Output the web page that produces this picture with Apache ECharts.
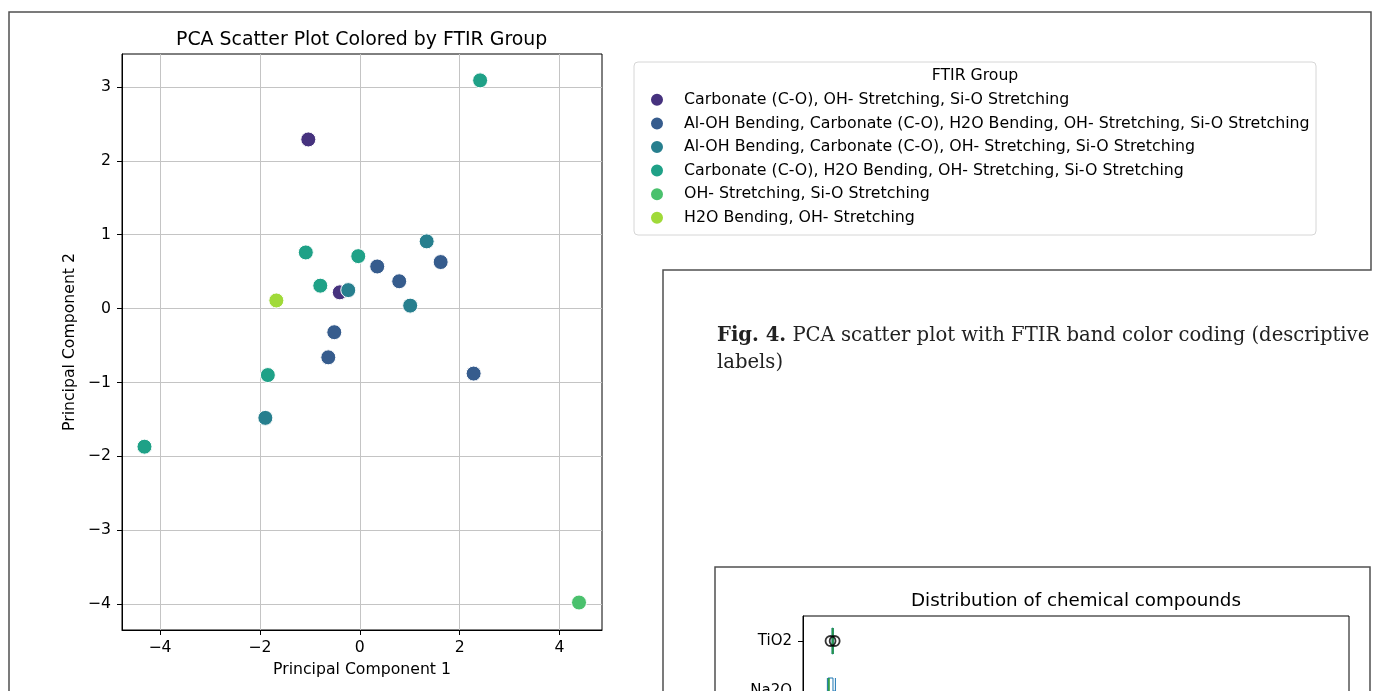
<!DOCTYPE html>
<html>
<head>
<meta charset="utf-8">
<script src="https://cdn.jsdelivr.net/npm/echarts@6/dist/echarts.min.js"></script>
<style>
  html, body { margin: 0; padding: 0; background: #fff; }
  #chart { width: 1378px; height: 691px; }
</style>
</head>
<body>
<div id="chart"></div>
<script>
// FTIR groups (legend order) and their viridis colours
const groupNames = [
  'Carbonate (C-O), OH- Stretching, Si-O Stretching',
  'Al-OH Bending, Carbonate (C-O), H2O Bending, OH- Stretching, Si-O Stretching',
  'Al-OH Bending, Carbonate (C-O), OH- Stretching, Si-O Stretching',
  'Carbonate (C-O), H2O Bending, OH- Stretching, Si-O Stretching',
  'OH- Stretching, Si-O Stretching',
  'H2O Bending, OH- Stretching'
];
const groupColors = ['#46327e', '#365c8d', '#277f8e', '#1fa187', '#4ac16d', '#a0da39'];

// PCA scores [PC1, PC2] per FTIR group
const pcaGroup1 = [[-1.03, 2.29], [-0.40, 0.22]];
const pcaGroup2 = [[0.35, 0.57], [0.79, 0.37], [1.62, 0.63], [-0.51, -0.32], [-0.63, -0.66], [2.28, -0.88]];
const pcaGroup3 = [[1.34, 0.91], [-0.23, 0.25], [1.01, 0.04], [-1.89, -1.48]];
const pcaGroup4 = [[2.41, 3.09], [-1.08, 0.76], [-0.03, 0.71], [-0.79, 0.31], [-1.84, -0.90], [-4.31, -1.87]];
const pcaGroup5 = [[4.39, -3.98]];
const pcaGroup6 = [[-1.67, 0.11]];
const pcaGroups = [pcaGroup1, pcaGroup2, pcaGroup3, pcaGroup4, pcaGroup5, pcaGroup6];

// Tick labels of the PCA axes
const pc1Ticks = [-4, -2, 0, 2, 4];
const pc2Ticks = [-4, -3, -2, -1, 0, 1, 2, 3];

// Compound distribution (box plot): categories, [min, Q1, median, Q3, max], outliers
const compounds = ['TiO2', 'Na2O'];
const compoundBoxes = [[1.00, 1.03, 1.08, 1.13, 1.16], [0.35, 0.43, 0.55, 1.12, 1.45]];
const compoundOutliers = [['TiO2', 0.78], ['TiO2', 1.35]];

const minus = v => String(v).replace('-', '\u2212');
const SANS = 'DejaVu Sans';

const chart = echarts.init(document.getElementById('chart'), null, { renderer: 'canvas' });

const scatterSeries = pcaGroups.map((pts, i) => ({
  name: groupNames[i],
  type: 'scatter',
  xAxisIndex: 0,
  yAxisIndex: 0,
  data: pts,
  symbol: 'circle',
  symbolSize: 15,
  itemStyle: { color: groupColors[i], borderColor: '#ffffff', borderWidth: 1, opacity: 1 },
  emphasis: { disabled: true },
  z: 3
}));

chart.setOption({
  animation: false,
  backgroundColor: '#ffffff',
  textStyle: { fontFamily: SANS },
  title: [
    {
      text: 'PCA Scatter Plot Colored by FTIR Group',
      left: 171, top: 26,
      textStyle: { fontFamily: SANS, fontSize: 18.9, fontWeight: 'normal', color: '#000' }
    },
    {
      text: 'Distribution of chemical compounds',
      left: 906, top: 587,
      textStyle: { fontFamily: SANS, fontSize: 18.3, fontWeight: 'normal', color: '#000' }
    }
  ],
  legend: {
    orient: 'vertical',
    left: 649, top: 91,
    padding: 0,
    itemWidth: 14, itemHeight: 14,
    itemGap: 6,
    icon: 'circle',
    selectedMode: false,
    data: groupNames,
    textStyle: { fontFamily: SANS, fontSize: 15.8, color: '#000', lineHeight: 17.6, padding: [0, 0, 0, 15] }
  },
  grid: [
    { left: 122, top: 54, right: 776, bottom: 61, outerBoundsMode: 'none', show: true, borderColor: '#000', borderWidth: 1, backgroundColor: 'transparent' },
    { left: 803, top: 616, right: 29, height: 100, outerBoundsMode: 'none', show: true, borderColor: '#000', borderWidth: 1, backgroundColor: 'transparent' }
  ],
  xAxis: [
    {
      gridIndex: 0, type: 'value', min: -4.76, max: 4.85,
      name: 'Principal Component 1', nameLocation: 'middle', nameGap: 32,
      nameTextStyle: { fontFamily: SANS, fontSize: 15.7, color: '#000' },
      axisLine: { show: true, onZero: false, lineStyle: { color: '#000', width: 1 } },
      axisTick: { show: true, length: 5, customValues: pc1Ticks, lineStyle: { color: '#000' } },
      axisLabel: { customValues: pc1Ticks, margin: 10, fontSize: 15.7, color: '#000', fontFamily: SANS, formatter: minus },
      splitLine: { show: true, lineStyle: { color: '#c4c4c4', width: 1 } }
    },
    {
      gridIndex: 1, type: 'value', min: -3, max: 72,
      axisLine: { show: true, onZero: false, lineStyle: { color: '#000' } },
      axisTick: { show: true, length: 5, lineStyle: { color: '#000' } },
      axisLabel: { fontSize: 14, color: '#000', fontFamily: SANS },
      splitLine: { show: false }
    }
  ],
  yAxis: [
    {
      gridIndex: 0, type: 'value', min: -4.352, max: 3.447,
      name: 'Principal Component 2', nameLocation: 'middle', nameGap: 44, nameRotate: 90,
      nameTextStyle: { fontFamily: SANS, fontSize: 15.7, color: '#000' },
      axisLine: { show: true, onZero: false, lineStyle: { color: '#000', width: 1 } },
      axisTick: { show: true, length: 5, customValues: pc2Ticks, lineStyle: { color: '#000' } },
      axisLabel: { customValues: pc2Ticks, margin: 11, fontSize: 15.7, color: '#000', fontFamily: SANS, formatter: minus },
      splitLine: { show: true, lineStyle: { color: '#c4c4c4', width: 1 } }
    },
    {
      gridIndex: 1, type: 'category', data: compounds, inverse: true,
      axisLine: { show: true, onZero: false, lineStyle: { color: '#000' } },
      axisTick: { show: true, length: 5, alignWithLabel: true, lineStyle: { color: '#000' } },
      axisLabel: { fontSize: 15, color: '#000', fontFamily: SANS, margin: 11 },
      splitLine: { show: false }
    }
  ],
  series: scatterSeries.concat([
    {
      name: 'compound-box',
      type: 'boxplot',
      xAxisIndex: 1, yAxisIndex: 1,
      layout: 'horizontal',
      boxWidth: [26, 26],
      data: compoundBoxes,
      itemStyle: { color: 'transparent', borderColor: '#1f77b4', borderWidth: 1 },
      emphasis: { disabled: true }
    },
    {
      name: 'compound-median',
      type: 'scatter',
      xAxisIndex: 1, yAxisIndex: 1,
      symbol: 'rect', symbolSize: [2, 26],
      data: compounds.map((c, i) => [compoundBoxes[i][2], c]),
      itemStyle: { color: '#2ca02c' },
      emphasis: { disabled: true },
      z: 4
    },
    {
      name: 'compound-outliers',
      type: 'scatter',
      xAxisIndex: 1, yAxisIndex: 1,
      symbol: 'circle', symbolSize: 10,
      data: compoundOutliers.map(o => [o[1], o[0]]),
      itemStyle: { color: 'transparent', borderColor: '#000', borderWidth: 1.8 },
      emphasis: { disabled: true },
      z: 5
    }
  ]),
  graphic: [
    // outer panel frames
    { type: 'polyline', silent: true, z: 10,
      shape: { points: [[9, 700], [9, 12], [1371, 12], [1371, 270], [663, 270], [663, 700]] },
      style: { stroke: '#505050', lineWidth: 1.5, fill: null } },
    { type: 'rect', silent: true, z: 10,
      shape: { x: 715, y: 567, width: 655, height: 200 },
      style: { stroke: '#505050', lineWidth: 1.5, fill: null } },
    // legend box and its title
    { type: 'rect', silent: true, z: 0,
      shape: { x: 634, y: 62, width: 682, height: 173, r: 4 },
      style: { stroke: '#d6d6d6', lineWidth: 1, fill: '#fff' } },
    { type: 'text', silent: true, z: 11, x: 975, y: 76,
      style: { text: 'FTIR Group', font: '15.7px "DejaVu Sans"', fill: '#000', align: 'center', verticalAlign: 'middle' } },
    // figure caption
    { type: 'text', silent: true, z: 11, x: 717, y: 322,
      style: {
        text: '{b|Fig. 4.} PCA scatter plot with FTIR band color coding (descriptive\nlabels)',
        font: '19.6px "DejaVu Serif"', fill: '#222', lineHeight: 27,
        rich: { b: { fontFamily: 'DejaVu Serif', fontSize: 19.6, fontWeight: 'bold', fill: '#222', lineHeight: 27 } }
      } }
  ]
});
</script>
</body>
</html>
